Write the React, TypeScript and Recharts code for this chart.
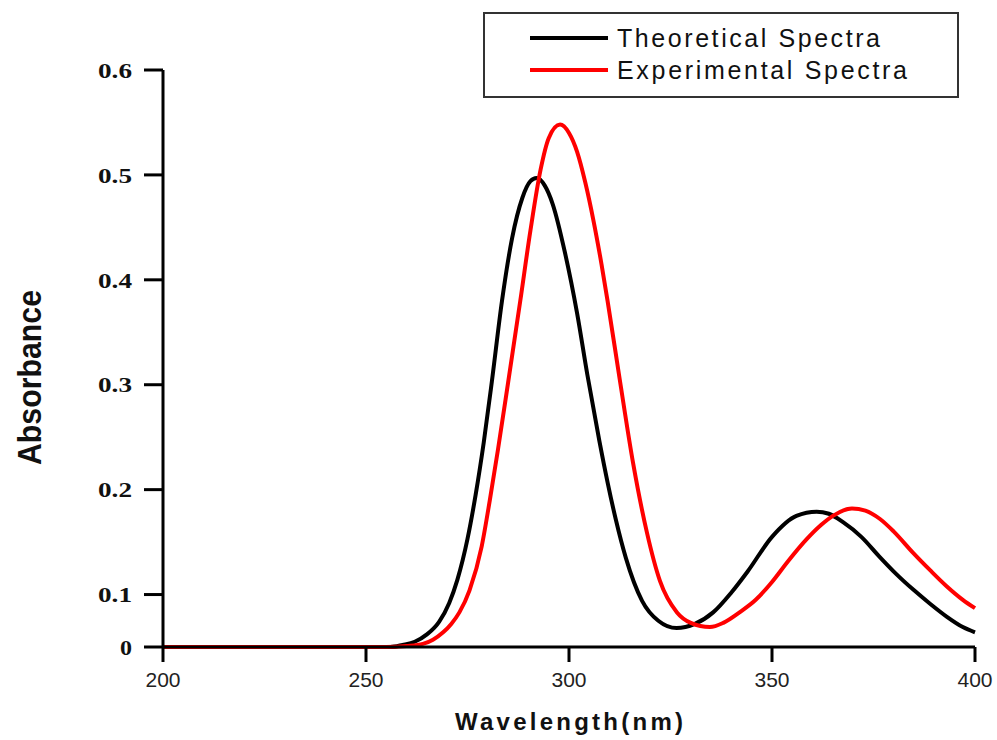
import React from 'react';
import { LineChart, Line, XAxis, YAxis, Legend } from 'recharts';

// wavelength (nm) / absorbance
// note: the axis bottom sits at 0.05 but is labelled "0" in the original
const theoNm = [200, 250, 256, 259, 262, 265, 268, 270.5, 272.5, 275, 277, 279, 281, 283.5, 286, 288.5, 290.5, 292, 294, 296, 299, 302, 304.5, 307.5, 309.5, 311.5, 314, 318, 322, 326.5, 331, 335.5, 340, 344, 350, 356, 361, 364, 367.5, 372, 376.5, 380.5, 385, 389, 393, 397, 400];
const theoAbs = [0.05, 0.05, 0.05, 0.052, 0.055, 0.062, 0.074, 0.092, 0.114, 0.153, 0.195, 0.245, 0.303, 0.38, 0.44, 0.478, 0.494, 0.497, 0.49, 0.472, 0.426, 0.368, 0.31, 0.246, 0.207, 0.172, 0.135, 0.094, 0.075, 0.068, 0.072, 0.083, 0.102, 0.122, 0.155, 0.175, 0.179, 0.177, 0.169, 0.155, 0.136, 0.12, 0.104, 0.091, 0.079, 0.069, 0.064];

const expNm = [200, 255, 260, 264, 266.5, 269, 271, 273, 275.5, 278.5, 280.5, 282.5, 285, 288, 290.5, 293, 295, 297.8, 300, 302, 304, 306, 308, 309.5, 312.5, 315.8, 319.2, 322.4, 326.6, 330, 334.7, 338, 342, 346, 350, 354, 358.6, 362, 365, 369.7, 373, 376.6, 380, 384.7, 389, 393, 397, 400];
const expAbs = [0.05, 0.05, 0.051, 0.053, 0.057, 0.064, 0.072, 0.083, 0.104, 0.146, 0.19, 0.238, 0.302, 0.38, 0.447, 0.505, 0.535, 0.548, 0.54, 0.522, 0.493, 0.457, 0.415, 0.38, 0.305, 0.225, 0.159, 0.113, 0.083, 0.073, 0.069, 0.073, 0.083, 0.095, 0.112, 0.132, 0.153, 0.166, 0.175, 0.182, 0.18, 0.172, 0.16, 0.14, 0.123, 0.108, 0.095, 0.087];

const xTicks = [200, 250, 300, 350, 400];
const yTicks = [0.05, 0.1, 0.2, 0.3, 0.4, 0.5, 0.6];
const yTickLabels = ['0', '0.1', '0.2', '0.3', '0.4', '0.5', '0.6'];

const seriesNames = ['Theoretical Spectra', 'Experimental Spectra'];
const seriesColors = ['#000000', '#ff0000'];

const theoData = theoNm.map((nm, i) => ({ nm, abs: theoAbs[i] }));
const expData = expNm.map((nm, i) => ({ nm, abs: expAbs[i] }));

const SANS = '"Liberation Sans", Arial, sans-serif';
const SERIF = '"Liberation Serif", "Times New Roman", serif';

function YTick({ x, y, payload }: any) {
  const idx = yTicks.indexOf(payload.value);
  const text = idx >= 0 ? yTickLabels[idx] : String(payload.value);
  return (
    <text
      x={x}
      y={y}
      dy="0.35em"
      textAnchor="end"
      fontFamily={SERIF}
      fontWeight="bold"
      fontSize={22}
      fill="#111"
      textLength={text === '0' ? 12 : 34}
      lengthAdjust="spacingAndGlyphs"
    >
      {text}
    </text>
  );
}

function XTitle({ viewBox }: any) {
  return (
    <text
      x={viewBox.x + viewBox.width / 2}
      y={viewBox.y + 83}
      textAnchor="middle"
      fontFamily={SANS}
      fontWeight="bold"
      fontSize={24}
      fill="#111"
      textLength={228}
      lengthAdjust="spacing"
    >
      Wavelength(nm)
    </text>
  );
}

function YTitle({ viewBox }: any) {
  const cx = 29;
  const cy = viewBox.y + viewBox.height / 2 + 19;
  return (
    <text
      transform={`translate(${cx},${cy}) rotate(-90)`}
      textAnchor="middle"
      dominantBaseline="central"
      fontFamily={SANS}
      fontWeight="bold"
      fontSize={34}
      fill="#111"
      textLength={175}
      lengthAdjust="spacingAndGlyphs"
    >
      Absorbance
    </text>
  );
}

function LegendBox() {
  return (
    <svg width={476} height={86}>
      <rect x={1} y={1} width={474} height={84} fill="#fff" stroke="#333" strokeWidth={2} />
      {seriesNames.map((name, i) => (
        <g key={name}>
          <line x1={47} x2={125} y1={26 + i * 32} y2={26 + i * 32} stroke={seriesColors[i]} strokeWidth={4} />
          <text
            x={134}
            y={26 + i * 32}
            dominantBaseline="central"
            fontFamily={SANS}
            fontSize={25}
            fill="#111"
            textLength={i === 0 ? 263 : 290}
            lengthAdjust="spacing"
          >
            {name}
          </text>
        </g>
      ))}
    </svg>
  );
}

export default function App() {
  return (
    <div style={{ position: 'absolute', left: 0, top: 0, width: 997, height: 740, background: '#fff' }}>
      <LineChart width={997} height={740} margin={{ top: 70, right: 22, left: 0, bottom: 0 }}>
        <XAxis
          dataKey="nm"
          type="number"
          domain={[200, 400]}
          ticks={xTicks}
          allowDuplicatedCategory={false}
          height={93}
          tickSize={15}
          tickMargin={10}
          axisLine={{ stroke: '#000', strokeWidth: 3 }}
          tickLine={{ stroke: '#000', strokeWidth: 3 }}
          tick={{ fontSize: 21, fontFamily: SANS, fill: '#222' }}
          label={<XTitle />}
        />
        <YAxis
          dataKey="abs"
          type="number"
          domain={[0.05, 0.6]}
          ticks={yTicks}
          width={163}
          tickSize={19}
          tickMargin={12}
          axisLine={{ stroke: '#000', strokeWidth: 3 }}
          tickLine={{ stroke: '#000', strokeWidth: 3 }}
          tick={<YTick />}
          label={<YTitle />}
        />
        <Legend
          layout="vertical"
          align="center"
          verticalAlign="middle"
          content={<LegendBox />}
          wrapperStyle={{ top: 12, left: 483, width: 476, height: 86 }}
        />
        <Line
          data={theoData}
          dataKey="abs"
          name={seriesNames[0]}
          type="monotone"
          stroke={seriesColors[0]}
          strokeWidth={4}
          dot={false}
          isAnimationActive={false}
        />
        <Line
          data={expData}
          dataKey="abs"
          name={seriesNames[1]}
          type="monotone"
          stroke={seriesColors[1]}
          strokeWidth={4}
          dot={false}
          isAnimationActive={false}
        />
      </LineChart>
    </div>
  );
}
